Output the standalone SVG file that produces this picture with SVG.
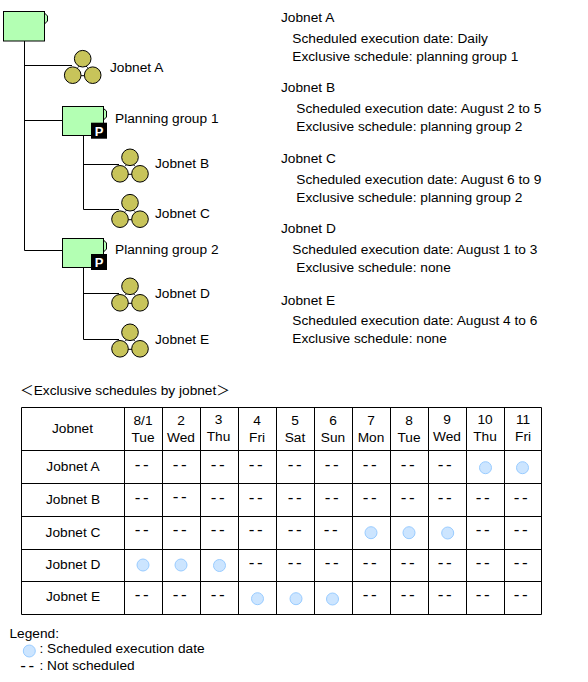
<svg xmlns="http://www.w3.org/2000/svg" width="588" height="682" viewBox="0 0 588 682">
<style>
text{font-family:"Liberation Sans",Arial,"Noto Sans CJK JP",sans-serif;font-size:13.7px;fill:#000}
.m{text-anchor:middle}
.d{text-anchor:middle;font-size:17px;letter-spacing:2.500px}
.box{fill:#b3ffb3;stroke:#000;stroke-width:1}
.tab{fill:#b3ffb3;stroke:#000;stroke-width:1}
.c{fill:#c8c45a;stroke:#000;stroke-width:1}
.w{fill:none;stroke:#000;stroke-width:1}
.s{fill:#cce5ff;stroke:#99ccff;stroke-width:1}
.b{fill:#000}
.p{fill:#fff;font-weight:bold;font-size:13px;text-anchor:middle}
</style>
<defs>
<g id="jn"><path class="w" d="M-5 9L-3 7M5 9L3 7M-2 17H2"/><circle class="c" cx="0" cy="0" r="8.300"/><circle class="c" cx="-10" cy="16.500" r="8.300"/><circle class="c" cx="10" cy="16.500" r="8.300"/></g>
<g id="pb"><rect class="b" x="0" y="0" width="16" height="16"/><text class="p" x="8" y="13">P</text></g>
</defs>
<g id="connectors">
<path class="w" d="M24.500 41V250.500H62M24.500 65.500H72M24.500 120.500H62M83.500 135V209.500H119M83.500 164.500H119M83.500 267V339.500H119M83.500 293.500H119"/>
</g>
<g id="root"><path class="tab" d="M44.500 13L47.500 16V21L44.500 24Z"/><rect class="box" x="3.500" y="11.500" width="41" height="29.500"/></g>
<g id="jobnet-a"><use href="#jn" x="82.700" y="58.700"/><text x="110" y="72">Jobnet A</text></g>
<g id="planning-group-1"><path class="tab" d="M103.500 108.500L106.500 111V117L103.500 120Z"/><rect class="box" x="62.500" y="106.500" width="41" height="29"/><use href="#pb" x="91" y="122.700"/><text x="115" y="123">Planning group 1</text></g>
<g id="jobnet-b"><use href="#jn" x="130" y="157.300"/><text x="155" y="168">Jobnet B</text></g>
<g id="jobnet-c"><use href="#jn" x="130" y="202.700"/><text x="155" y="218">Jobnet C</text></g>
<g id="planning-group-2"><path class="tab" d="M103.500 240L106.500 243V249L103.500 252Z"/><rect class="box" x="62.500" y="238.500" width="41" height="29"/><use href="#pb" x="91" y="254"/><text x="115" y="254">Planning group 2</text></g>
<g id="jobnet-d"><use href="#jn" x="130" y="286.300"/><text x="155" y="298">Jobnet D</text></g>
<g id="jobnet-e"><use href="#jn" x="130" y="332.300"/><text x="155" y="344">Jobnet E</text></g>
<g id="descriptions">
<text x="281" y="22">Jobnet A</text>
<text x="292.300" y="43">Scheduled execution date: Daily</text>
<text x="292.300" y="61">Exclusive schedule: planning group 1</text>
<text x="281" y="92">Jobnet B</text>
<text x="296.300" y="113">Scheduled execution date: August 2 to 5</text>
<text x="296.300" y="131">Exclusive schedule: planning group 2</text>
<text x="281" y="163">Jobnet C</text>
<text x="296.300" y="184">Scheduled execution date: August 6 to 9</text>
<text x="296.300" y="202">Exclusive schedule: planning group 2</text>
<text x="281" y="233">Jobnet D</text>
<text x="292.300" y="254">Scheduled execution date: August 1 to 3</text>
<text x="296.300" y="272">Exclusive schedule: none</text>
<text x="281" y="305">Jobnet E</text>
<text x="292.300" y="325">Scheduled execution date: August 4 to 6</text>
<text x="292.300" y="343">Exclusive schedule: none</text>
</g>
<text x="20" y="395">＜Exclusive schedules by jobnet＞</text>
<g id="table">
<path class="w" d="M21.500 407.500H541.500V614.500H21.500ZM21.500 450.500H541.500M21.500 483.500H541.500M21.500 516.500H541.500M21.500 549.500H541.500M21.500 581.500H541.500M124.500 407.500V614.500M162.500 407.500V614.500M200.500 407.500V614.500M238.500 407.500V614.500M276.500 407.500V614.500M314.500 407.500V614.500M352.500 407.500V614.500M390.500 407.500V614.500M428.500 407.500V614.500M466.500 407.500V614.500M504.500 407.500V614.500"/>
<text class="m" x="72.500" y="433">Jobnet</text>
<text class="m" x="143" y="425">8/1</text><text class="m" x="143" y="442">Tue</text>
<text class="m" x="181" y="425">2</text><text class="m" x="181" y="442">Wed</text>
<text class="m" x="218.500" y="424">3</text><text class="m" x="218.500" y="441">Thu</text>
<text class="m" x="257" y="425">4</text><text class="m" x="257" y="442">Fri</text>
<text class="m" x="295" y="425">5</text><text class="m" x="295" y="442">Sat</text>
<text class="m" x="333" y="425">6</text><text class="m" x="333" y="442">Sun</text>
<text class="m" x="371" y="425">7</text><text class="m" x="371" y="442">Mon</text>
<text class="m" x="409" y="425">8</text><text class="m" x="409" y="442">Tue</text>
<text class="m" x="447" y="424">9</text><text class="m" x="447" y="441">Wed</text>
<text class="m" x="485" y="424">10</text><text class="m" x="485" y="441">Thu</text>
<text class="m" x="523" y="424">11</text><text class="m" x="523" y="441">Fri</text>
<text class="m" x="73" y="471">Jobnet A</text>
<text class="m" x="73" y="504">Jobnet B</text>
<text class="m" x="73" y="537">Jobnet C</text>
<text class="m" x="73" y="569">Jobnet D</text>
<text class="m" x="73" y="601">Jobnet E</text>
<text class="d" x="143" y="470">--</text><text class="d" x="181" y="470">--</text><text class="d" x="219" y="470">--</text><text class="d" x="257" y="470">--</text><text class="d" x="296" y="470">--</text><text class="d" x="333" y="470">--</text><text class="d" x="371" y="470">--</text><text class="d" x="409" y="470">--</text><text class="d" x="446" y="470">--</text>
<text class="d" x="143" y="503">--</text><text class="d" x="181" y="502">--</text><text class="d" x="219" y="503">--</text><text class="d" x="257" y="503">--</text><text class="d" x="296" y="503">--</text><text class="d" x="333" y="503">--</text><text class="d" x="371" y="503">--</text><text class="d" x="409" y="503">--</text><text class="d" x="446" y="503">--</text><text class="d" x="484" y="503">--</text><text class="d" x="522" y="503">--</text>
<text class="d" x="143" y="535">--</text><text class="d" x="181" y="535">--</text><text class="d" x="219" y="535">--</text><text class="d" x="257" y="535">--</text><text class="d" x="296" y="535">--</text><text class="d" x="332" y="535">--</text><text class="d" x="484" y="535">--</text><text class="d" x="522" y="535">--</text>
<text class="d" x="257" y="568">--</text><text class="d" x="296" y="568">--</text><text class="d" x="333" y="568">--</text><text class="d" x="371" y="568">--</text><text class="d" x="409" y="568">--</text><text class="d" x="446" y="568">--</text><text class="d" x="484" y="568">--</text><text class="d" x="522" y="568">--</text>
<text class="d" x="143" y="600">--</text><text class="d" x="181" y="600">--</text><text class="d" x="219" y="600">--</text><text class="d" x="371" y="600">--</text><text class="d" x="409" y="600">--</text><text class="d" x="446" y="600">--</text><text class="d" x="484" y="600">--</text><text class="d" x="522" y="600">--</text>
<circle class="s" cx="485.500" cy="467.700" r="6"/><circle class="s" cx="522.500" cy="467.700" r="6"/>
<circle class="s" cx="371" cy="532.700" r="6"/><circle class="s" cx="409" cy="532.700" r="6"/><circle class="s" cx="447.700" cy="533" r="6"/>
<circle class="s" cx="143" cy="565" r="6"/><circle class="s" cx="181" cy="565" r="6"/><circle class="s" cx="219.500" cy="565.500" r="6"/>
<circle class="s" cx="257.500" cy="598.700" r="6"/><circle class="s" cx="296" cy="598.700" r="6"/><circle class="s" cx="332.500" cy="599" r="6"/>
</g>
<g id="legend">
<text x="9.500" y="638">Legend:</text>
<circle class="s" cx="29.300" cy="651" r="6"/>
<text x="39.500" y="653">: Scheduled execution date</text>
<text class="d" x="28.500" y="671">--</text>
<text x="39.500" y="670">: Not scheduled</text>
</g>
</svg>
